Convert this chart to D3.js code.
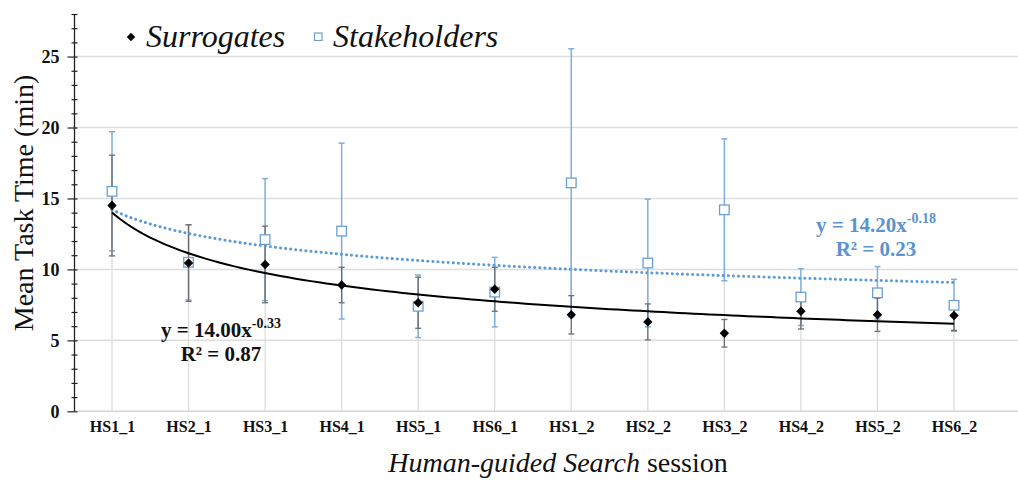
<!DOCTYPE html>
<html>
<head>
<meta charset="utf-8">
<script src="https://cdn.jsdelivr.net/npm/d3@7"></script>
<style>
  body { margin: 0; background: #fff; }
  svg { display: block; font-family: "Liberation Serif", "Times New Roman", serif; }
</style>
</head>
<body>
<svg id="chart" width="1018" height="483"></svg>
<script>
// sessions on the x axis
var sessions = ["HS1_1", "HS2_1", "HS3_1", "HS4_1", "HS5_1", "HS6_1",
                "HS1_2", "HS2_2", "HS3_2", "HS4_2", "HS5_2", "HS6_2"];

// mean task time (min) + error bar half-width
var surrogates    = [14.5, 10.45, 10.35, 8.9, 7.65, 8.6, 6.8, 6.3, 5.5, 7.05, 6.8, 6.75];
var surrogatesErr = [3.55, 2.7, 2.7, 1.25, 1.8, 1.55, 1.35, 1.27, 0.97, 1.25, 1.17, 1.05];
var stakeholders    = [15.5, 10.5, 12.1, 12.7, 7.4, 8.4, 16.1, 10.45, 14.2, 8.05, 8.35, 7.47];
var stakeholdersErr = [4.2, 2.65, 4.3, 6.2, 2.2, 2.45, 9.45, 4.5, 5.0, 2.0, 1.85, 1.83];

// power trend lines y = a * x^b (as printed on the chart)
var surrFit  = [14.00, -0.33, 0.87];
var stakeFit = [14.20, -0.18, 0.23];

var yTicks = d3.range(0, 29);

var svg = d3.select("#chart");
var blue = "#5b9bd5";

var x = d3.scalePoint().domain(sessions).range([112, 954]);
var xi = d3.scaleLinear().domain([1, sessions.length]).range([112, 954]);
var y = d3.scaleLinear().domain([0, 28]).range([411.3, 14]);
var axisX = 74.5;

// horizontal gridlines
svg.append("g").selectAll("line")
    .data([5, 10, 15, 20, 25]).enter()
  .append("line")
    .attr("x1", axisX).attr("x2", 1018)
    .attr("y1", function(d) { return y(d); })
    .attr("y2", function(d) { return y(d); })
    .style("stroke", "#dedede").style("stroke-width", 1.5);

// x axis line
svg.append("line")
    .attr("x1", axisX).attr("x2", 1018)
    .attr("y1", y(0)).attr("y2", y(0))
    .style("stroke", "#d6d6d6").style("stroke-width", 1.5);

// drop lines
svg.append("g").selectAll("line")
    .data(sessions).enter()
  .append("line")
    .attr("x1", function(d) { return x(d); })
    .attr("x2", function(d) { return x(d); })
    .attr("y1", y(0))
    .attr("y2", function(d, i) { return y(Math.max(surrogates[i], stakeholders[i])); })
    .style("stroke", "#dadada").style("stroke-width", 1.2);

function errorBars(vals, errs, color, width) {
  var g = svg.append("g").style("stroke", color).style("stroke-width", width);
  sessions.forEach(function(s, i) {
    var cx = x(s), lo = y(vals[i] - errs[i]), hi = y(vals[i] + errs[i]);
    g.append("line").attr("x1", cx).attr("x2", cx).attr("y1", lo).attr("y2", hi);
    g.append("line").attr("x1", cx - 3).attr("x2", cx + 3).attr("y1", lo).attr("y2", lo);
    g.append("line").attr("x1", cx - 3).attr("x2", cx + 3).attr("y1", hi).attr("y2", hi);
  });
}
errorBars(stakeholders, stakeholdersErr, "#7eaedb", 1.5);
errorBars(surrogates, surrogatesErr, "#6e6e6e", 1.3);

// trend lines
function fitLine(fit) {
  var pts = d3.range(1, sessions.length + 0.001, 0.1).map(function(t) {
    return [t, fit[0] * Math.pow(t, fit[1])];
  });
  return d3.line()
      .x(function(d) { return xi(d[0]); })
      .y(function(d) { return y(d[1]); })(pts);
}
svg.append("path")
    .attr("d", fitLine(stakeFit))
    .style("fill", "none").style("stroke", blue)
    .style("stroke-width", 3).style("stroke-linecap", "round")
    .style("stroke-dasharray", "0.1 5");
svg.append("path")
    .attr("d", fitLine(surrFit))
    .style("fill", "none").style("stroke", "#000").style("stroke-width", 2);

// markers
svg.append("g").selectAll("rect")
    .data(stakeholders).enter()
  .append("rect")
    .attr("x", function(d, i) { return x(sessions[i]) - 4.8; })
    .attr("y", function(d) { return y(d) - 4.8; })
    .attr("width", 9.6).attr("height", 9.6)
    .style("fill", "#fff").style("stroke", "#6a9fd2").style("stroke-width", 1.3);

var diamond = d3.symbol().type(d3.symbolSquare).size(44);
svg.append("g").selectAll("path")
    .data(surrogates).enter()
  .append("path")
    .attr("d", diamond)
    .attr("transform", function(d, i) {
      return "translate(" + x(sessions[i]) + "," + y(d) + ") rotate(45)";
    })
    .style("fill", "#000");

// y axis
var yAxis = d3.axisLeft(y)
    .tickValues(yTicks)
    .tickSize(7)
    .tickPadding(8)
    .tickFormat(function(d) { return (d % 5 === 0 && d <= 25) ? d : ""; });

var gy = svg.append("g")
    .attr("transform", "translate(" + axisX + ",0)")
    .call(yAxis);
gy.select(".domain").attr("d", "M0," + y(28) + "V" + y(0)).style("stroke", "#222").style("stroke-width", 1.3);
gy.selectAll(".tick line")
    .attr("x1", 3)
    .attr("x2", function(d) { return d % 5 === 0 ? -7 : -3; })
    .style("stroke", "#222").style("stroke-width", 1.2);
gy.selectAll(".tick text")
    .style("font-family", "Liberation Serif").style("font-weight", "bold")
    .style("font-size", "18px").style("fill", "#111");

// x axis labels
var gx = svg.append("g")
    .attr("transform", "translate(0," + y(0) + ")")
    .call(d3.axisBottom(x).tickSize(0).tickPadding(9));
gx.select(".domain").remove();
gx.selectAll(".tick text")
    .style("font-family", "Liberation Serif").style("font-weight", "bold")
    .style("font-size", "16px").style("fill", "#111");

// axis titles
svg.append("text")
    .attr("transform", "translate(33,203) rotate(-90)")
    .attr("text-anchor", "middle")
    .style("font-size", "28px").style("fill", "#111")
    .text("Mean Task Time (min)");

var xt = svg.append("text")
    .attr("x", 558).attr("y", 472)
    .attr("text-anchor", "middle")
    .style("font-size", "28px").style("fill", "#111");
xt.append("tspan").style("font-style", "italic").text("Human-guided Search");
xt.append("tspan").text(" session");

// legend
svg.append("path")
    .attr("d", d3.symbol().type(d3.symbolSquare).size(36))
    .attr("transform", "translate(131,37) rotate(45)")
    .style("fill", "#000");
svg.append("text")
    .attr("x", 146).attr("y", 47)
    .style("font-size", "32px").style("font-style", "italic").style("fill", "#111")
    .text("Surrogates");
svg.append("rect")
    .attr("x", 314.5).attr("y", 33).attr("width", 7.5).attr("height", 7.5)
    .style("fill", "#fff").style("stroke", "#6a9fd2").style("stroke-width", 1.2);
svg.append("text")
    .attr("x", 333).attr("y", 47)
    .style("font-size", "32px").style("font-style", "italic").style("fill", "#111")
    .text("Stakeholders");

// equations
function equation(fit, cx, by, color) {
  var t1 = svg.append("text")
      .attr("x", cx).attr("y", by)
      .attr("text-anchor", "middle")
      .style("font-size", "21px").style("font-weight", "bold").style("fill", color);
  t1.append("tspan").text("y = " + fit[0].toFixed(2) + "x");
  t1.append("tspan").attr("dy", -9).style("font-size", "14px").text(fit[1].toFixed(2));
  svg.append("text")
      .attr("x", cx).attr("y", by + 23.5)
      .attr("text-anchor", "middle")
      .style("font-size", "21px").style("font-weight", "bold").style("fill", color)
      .text("R\u00b2 = " + fit[2].toFixed(2));
}
equation(surrFit, 221, 337, "#111");
equation(stakeFit, 876, 232, "#5b93cf");
</script>
</body>
</html>
